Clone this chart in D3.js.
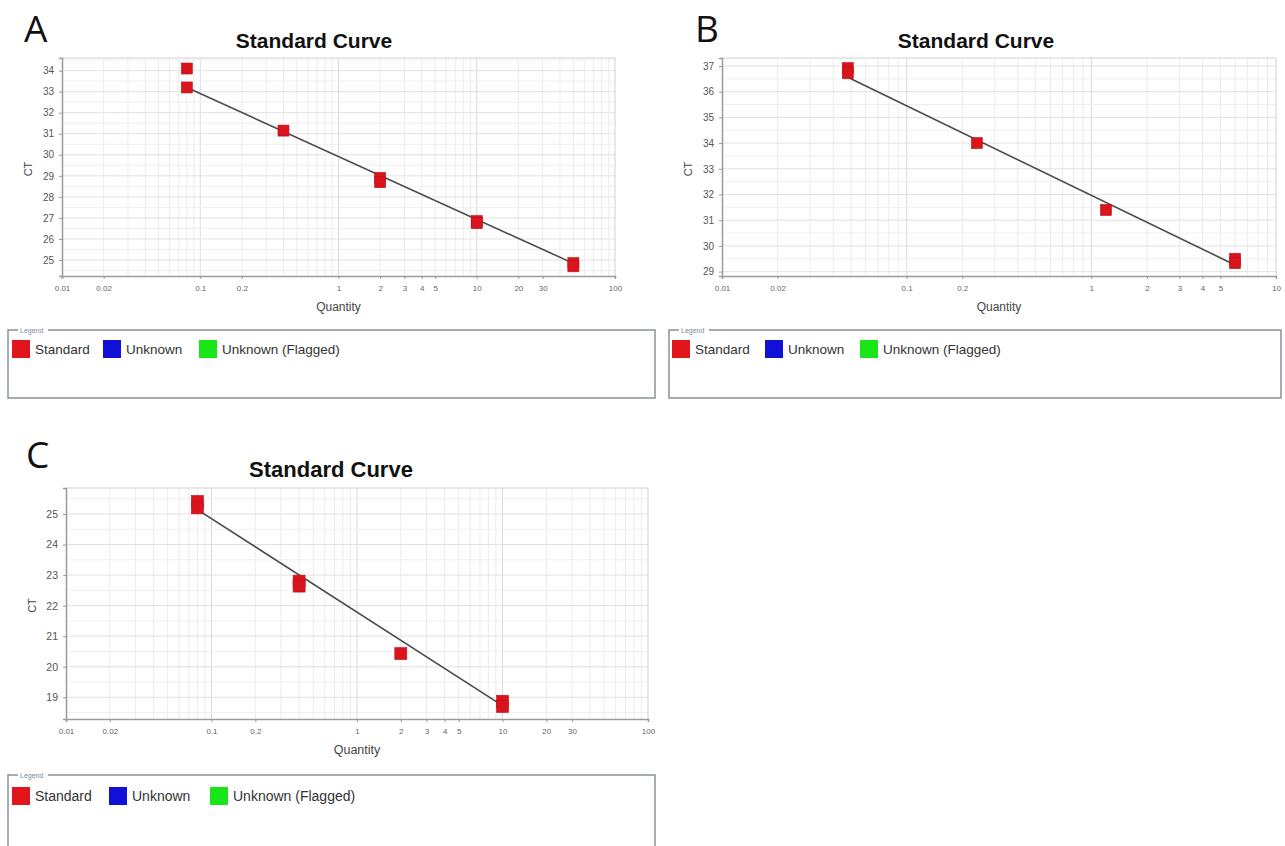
<!DOCTYPE html>
<html>
<head>
<meta charset="utf-8">
<script src="https://cdn.jsdelivr.net/npm/d3@7"></script>
<style>
  body { margin: 0; background: #fff; }
  svg { display: block; font-family: "Liberation Sans", Arial, sans-serif; }
</style>
</head>
<body>
<svg id="chart" width="1285" height="846"></svg>
<script>
// panel A data
var qtyA = [0.08, 0.08, 0.4, 2, 2, 10, 10, 50, 50];
var ctA = [34.1, 33.2, 31.15, 28.9, 28.7, 26.85, 26.75, 24.85, 24.7];
var fitQtyA = [0.08, 50];
var fitCtA = [33.2, 24.84];
var yTicksA = [25, 26, 27, 28, 29, 30, 31, 32, 33, 34];

// panel B data
var qtyB = [0.048, 0.048, 0.24, 1.2, 6, 6];
var ctB = [36.92, 36.72, 34.0, 31.4, 29.5, 29.33];
var fitQtyB = [0.048, 6];
var fitCtB = [36.56, 29.26];
var yTicksB = [29, 30, 31, 32, 33, 34, 35, 36, 37];

// panel C data
var qtyC = [0.08, 0.08, 0.4, 0.4, 2, 10, 10];
var ctC = [25.41, 25.2, 22.8, 22.64, 20.43, 18.87, 18.7];
var fitQtyC = [0.08, 10];
var fitCtC = [25.14, 18.73];
var yTicksC = [19, 20, 21, 22, 23, 24, 25];

var xTicksWide = [0.01, 0.02, 0.1, 0.2, 1, 2, 3, 4, 5, 10, 20, 30, 100];
var xTicksNarrow = [0.01, 0.02, 0.1, 0.2, 1, 2, 3, 4, 5, 10];

var legendNames = ["Standard", "Unknown", "Unknown (Flagged)"];
var legendColors = ["#e0161c", "#1010d8", "#19e619"];

var svg = d3.select('#chart');

function drawPanel(p) {
	var g = svg.append('g');

	var x = d3.scaleLog()
		.domain(p.xDomain)
		.range([p.left, p.right]);

	var y = d3.scaleLinear()
		.domain(p.yDomain)
		.range([p.bottom, p.top]);

	// minor log grid
	var grid = [];
	for (var e = -2; e < 3; e++) {
		for (var m = 1; m < 10; m++) {
			var v = m * Math.pow(10, e);
			if (v > p.xDomain[0] * 1.0001 && v < p.xDomain[1] * 0.9999) grid.push(v);
		}
	}
	g.selectAll('.vgrid')
		.data(grid)
		.enter().append('line')
		.attr('x1', function(d){ return x(d); })
		.attr('x2', function(d){ return x(d); })
		.attr('y1', p.top)
		.attr('y2', p.bottom)
		.attr('stroke', function(d){ return Math.abs(Math.log10(d) - Math.round(Math.log10(d))) < 1e-6 ? '#dadada' : '#ececec'; })
		.attr('stroke-width', 1);

	var hgrid = d3.range(Math.ceil(p.yDomain[0] * 2) / 2, p.yDomain[1], 0.5);
	g.selectAll('.hgrid')
		.data(hgrid)
		.enter().append('line')
		.attr('x1', p.left)
		.attr('x2', p.right)
		.attr('y1', function(d){ return y(d); })
		.attr('y2', function(d){ return y(d); })
		.attr('stroke', function(d){ return d % 1 === 0 ? '#e2e2e2' : '#efefef'; })
		.attr('stroke-width', 1);

	// frame
	g.append('path')
		.attr('d', 'M' + p.left + ',' + p.top + 'H' + p.right + 'V' + p.bottom)
		.attr('fill', 'none')
		.attr('stroke', '#d0d0d0');

	// axes
	var xAxis = d3.axisBottom(x)
		.tickValues(p.xTicks)
		.tickFormat(function(d){ return String(d); })
		.tickSize(3)
		.tickPadding(6);
	var xg = g.append('g')
		.attr('transform', 'translate(0,' + p.bottom + ')')
		.call(xAxis);
	xg.select('.domain').attr('stroke', '#9a9a9a').attr('stroke-width', 1.5);
	xg.selectAll('.tick line').attr('stroke', '#9a9a9a');
	xg.selectAll('.tick text')
		.attr('font-size', p.tickFont)
		.attr('font-family', '"Liberation Sans", Arial, sans-serif')
		.attr('fill', '#666');

	var yAxis = d3.axisLeft(y)
		.tickValues(p.yTicks)
		.tickSize(3)
		.tickPadding(5);
	var yg = g.append('g')
		.attr('transform', 'translate(' + p.left + ',0)')
		.call(yAxis);
	yg.select('.domain').attr('stroke', '#9a9a9a').attr('stroke-width', 1.5);
	yg.selectAll('.tick line').attr('stroke', '#9a9a9a');
	yg.selectAll('.tick text')
		.attr('font-size', p.yTickFont)
		.attr('font-family', '"Liberation Sans", Arial, sans-serif')
		.attr('fill', '#555');

	// fit line
	var fit = p.fitQty.map(function(q, i){ return [q, p.fitCt[i]]; });
	g.append('path')
		.datum(fit)
		.attr('d', d3.line()
			.x(function(d){ return x(d[0]); })
			.y(function(d){ return y(d[1]); }))
		.attr('fill', 'none')
		.attr('stroke', '#4a4a4a')
		.attr('stroke-width', 1.6);

	// standard points
	var pts = p.qty.map(function(q, i){ return [q, p.ct[i]]; });
	var s = p.mark;
	g.selectAll('.pt')
		.data(pts)
		.enter().append('rect')
		.attr('x', function(d){ return x(d[0]) - s / 2; })
		.attr('y', function(d){ return y(d[1]) - s / 2; })
		.attr('width', s)
		.attr('height', s)
		.attr('fill', '#d9141c')
		.attr('stroke', '#c0101a')
		.attr('stroke-width', 0.6);

	// titles and labels
	g.append('text')
		.attr('x', p.titleX)
		.attr('y', p.titleY)
		.attr('text-anchor', 'middle')
		.attr('font-size', p.titleFont)
		.attr('font-weight', 'bold')
		.attr('fill', '#111')
		.text('Standard Curve');

	g.append('text')
		.attr('x', p.letterX)
		.attr('y', p.letterY)
		.attr('font-family', '"Open Sans", "DejaVu Sans", sans-serif')
		.attr('font-size', 37)
		.attr('fill', '#111')
		.text(p.letter);

	g.append('text')
		.attr('transform', 'translate(' + (p.left - 30) + ',' + ((p.top + p.bottom) / 2 + 2) + ') rotate(-90)')
		.attr('text-anchor', 'middle')
		.attr('font-size', 11)
		.attr('fill', '#444')
		.text('CT');

	g.append('text')
		.attr('x', (p.left + p.right) / 2)
		.attr('y', p.bottom + 35)
		.attr('text-anchor', 'middle')
		.attr('font-size', p.labelFont)
		.attr('fill', '#444')
		.text('Quantity');

	// legend box
	var lg = svg.append('g');
	lg.append('path')
		.attr('d', 'M' + (p.legX + 10) + ',' + p.legTop + 'H' + p.legX + 'V' + p.legBottom + 'H' + p.legRight + 'V' + p.legTop + 'H' + (p.legX + 40))
		.attr('fill', 'none')
		.attr('stroke', '#8a9099')
		.attr('stroke-width', 1.5);
	lg.append('text')
		.attr('x', p.legX + 12)
		.attr('y', p.legTop + 2.5)
		.attr('font-size', 7)
		.attr('fill', '#7a8aa0')
		.text('Legend');

	var items = lg.selectAll('.item')
		.data(legendNames)
		.enter().append('g')
		.attr('transform', function(d, i){ return 'translate(' + p.legItemX[i] + ',' + p.legItemY + ')'; });
	items.append('rect')
		.attr('width', p.legSwatch)
		.attr('height', p.legSwatch)
		.attr('fill', function(d, i){ return legendColors[i]; });
	items.append('text')
		.attr('x', p.legSwatch + 5)
		.attr('y', p.legSwatch / 2 + 5)
		.attr('font-size', p.legFont)
		.attr('fill', '#333')
		.text(function(d){ return d; });
}

drawPanel({
	letter: 'A', letterX: 24, letterY: 42,
	left: 62, right: 615, top: 58, bottom: 276,
	titleX: 314, titleY: 48, titleFont: 21,
	xDomain: [0.01, 100], yDomain: [24.24, 34.6],
	xTicks: xTicksWide, yTicks: yTicksA,
	qty: qtyA, ct: ctA, fitQty: fitQtyA, fitCt: fitCtA,
	mark: 11, tickFont: 8, yTickFont: 10, labelFont: 12,
	legX: 8, legRight: 655, legTop: 330, legBottom: 398,
	legItemX: [12, 103, 199], legItemY: 340, legSwatch: 18, legFont: 13.5
});

drawPanel({
	letter: 'B', letterX: 695, letterY: 42,
	left: 722, right: 1276, top: 58, bottom: 276,
	titleX: 976, titleY: 48, titleFont: 21,
	xDomain: [0.01, 10], yDomain: [28.83, 37.31],
	xTicks: xTicksNarrow, yTicks: yTicksB,
	qty: qtyB, ct: ctB, fitQty: fitQtyB, fitCt: fitCtB,
	mark: 11, tickFont: 8, yTickFont: 10, labelFont: 12,
	legX: 669, legRight: 1281, legTop: 330, legBottom: 398,
	legItemX: [672, 765, 860], legItemY: 340, legSwatch: 18, legFont: 13.5
});

drawPanel({
	letter: 'C', letterX: 26, letterY: 468,
	left: 66, right: 648, top: 488, bottom: 719,
	titleX: 331, titleY: 477, titleFont: 22,
	xDomain: [0.01, 100], yDomain: [18.29, 25.85],
	xTicks: xTicksWide, yTicks: yTicksC,
	qty: qtyC, ct: ctC, fitQty: fitQtyC, fitCt: fitCtC,
	mark: 12, tickFont: 8, yTickFont: 10.5, labelFont: 12.5,
	legX: 8, legRight: 655, legTop: 775, legBottom: 860,
	legItemX: [12, 109, 210], legItemY: 787, legSwatch: 18, legFont: 14
});
</script>
</body>
</html>
